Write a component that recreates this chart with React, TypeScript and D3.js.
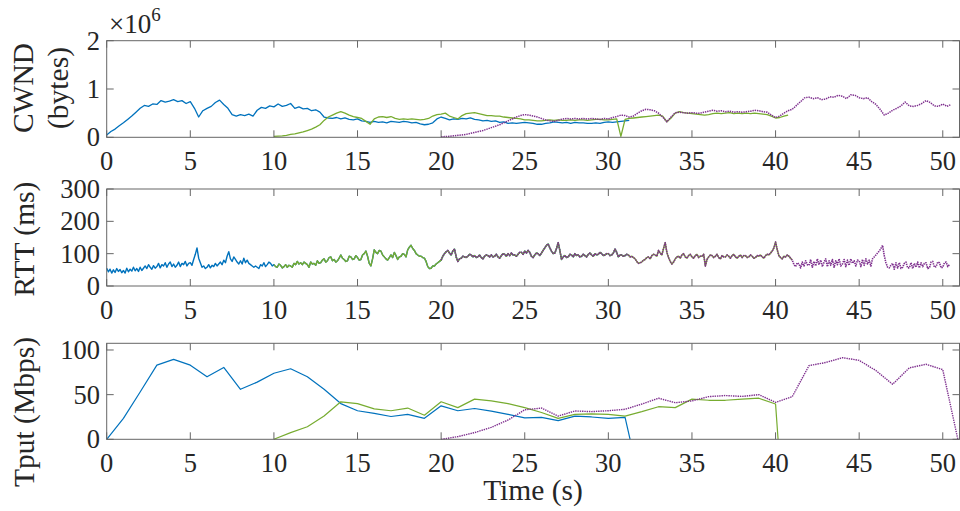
import React from 'react';
import * as d3 from 'd3';

// sampled traces: value every DT seconds from the flow start
const CWND_DT = 0.25;
const RTT_DT = 0.1;

// CWND in units of 1e6 bytes
const cwndBlueStart = 0;
const cwndBlue = [
  0.05, 0.12, 0.17, 0.24, 0.3, 0.37, 0.44, 0.52, 0.6, 0.66, 0.64, 0.69,
  0.68, 0.76, 0.73, 0.75, 0.78, 0.74, 0.76, 0.7, 0.74, 0.6, 0.42, 0.55,
  0.6, 0.64, 0.72, 0.77, 0.68, 0.6, 0.47, 0.44, 0.47, 0.45, 0.48, 0.44,
  0.56, 0.62, 0.6, 0.65, 0.63, 0.69, 0.64, 0.66, 0.7, 0.6, 0.63, 0.59,
  0.6, 0.55, 0.57, 0.52, 0.42, 0.4, 0.39, 0.41, 0.38, 0.4, 0.37, 0.36,
  0.38, 0.34, 0.33, 0.31, 0.33, 0.31, 0.32, 0.3, 0.33, 0.32, 0.31, 0.33,
  0.32, 0.3, 0.31, 0.28, 0.26, 0.27, 0.3, 0.38, 0.42, 0.39, 0.36, 0.38,
  0.37, 0.39, 0.38, 0.4, 0.37, 0.36, 0.34, 0.35, 0.33, 0.34, 0.31, 0.32,
  0.29, 0.3, 0.29, 0.3, 0.31, 0.3, 0.29, 0.27, 0.27, 0.29, 0.3, 0.32,
  0.31, 0.3, 0.31, 0.29, 0.31, 0.3, 0.3, 0.29, 0.29, 0.3, 0.29, 0.31,
  0.32, 0.31, 0.32, 0.33, 0.34, 0.35,
];
const cwndGreenStart = 10;
const cwndGreen = [
  0.02, 0.025, 0.03, 0.04, 0.06, 0.07, 0.09, 0.11, 0.14, 0.17, 0.21, 0.26,
  0.35, 0.42, 0.46, 0.5, 0.53, 0.5, 0.46, 0.43, 0.41, 0.39, 0.33, 0.27,
  0.38, 0.42, 0.43, 0.41, 0.43, 0.39, 0.37, 0.38, 0.37, 0.38, 0.37, 0.36,
  0.37, 0.39, 0.44, 0.47, 0.48, 0.5, 0.44, 0.41, 0.38, 0.45, 0.49, 0.5,
  0.51, 0.49, 0.47, 0.45, 0.45, 0.44, 0.44, 0.42, 0.41, 0.4, 0.39, 0.38,
  0.36, 0.36, 0.35, 0.34, 0.34, 0.35, 0.36, 0.35, 0.36, 0.35, 0.35, 0.36,
  0.35, 0.36, 0.36, 0.35, 0.36, 0.37, 0.37, 0.36, 0.36, 0.37, 0.38, 0.02,
  0.37, 0.39, 0.4, 0.41, 0.42, 0.43, 0.44, 0.45, 0.46, 0.44, 0.32, 0.4,
  0.5, 0.53, 0.51, 0.5, 0.49, 0.48, 0.47, 0.46, 0.47, 0.49, 0.5, 0.49,
  0.5, 0.51, 0.49, 0.5, 0.49, 0.5, 0.49, 0.5, 0.49, 0.48, 0.47, 0.44,
  0.4, 0.41, 0.44, 0.46,
];
const cwndPurpleStart = 20;
const cwndPurple = [
  0.01, 0.015, 0.02, 0.03, 0.04, 0.05, 0.06, 0.08, 0.1, 0.12, 0.14, 0.17,
  0.2, 0.23, 0.26, 0.3, 0.34, 0.38, 0.42, 0.45, 0.47, 0.46, 0.44, 0.42,
  0.39, 0.36, 0.34, 0.33, 0.35, 0.38, 0.39, 0.38, 0.39, 0.38, 0.39, 0.38,
  0.39, 0.38, 0.37, 0.39, 0.38, 0.41, 0.43, 0.46, 0.45, 0.42, 0.44, 0.5,
  0.55, 0.58, 0.57, 0.55, 0.5, 0.42, 0.32, 0.42, 0.51, 0.52, 0.51, 0.5,
  0.51, 0.5, 0.5, 0.52, 0.54, 0.56, 0.54, 0.55, 0.53, 0.54, 0.52, 0.53,
  0.52, 0.53, 0.54, 0.56, 0.55, 0.53, 0.52, 0.46, 0.41, 0.44, 0.5, 0.55,
  0.58, 0.66, 0.74, 0.82, 0.83, 0.8, 0.82, 0.78, 0.79, 0.84, 0.83, 0.87,
  0.85, 0.8, 0.88, 0.87, 0.82, 0.8, 0.82, 0.74, 0.68, 0.58, 0.46, 0.5,
  0.56, 0.6, 0.65, 0.73, 0.65, 0.64, 0.66, 0.7, 0.76, 0.72, 0.65, 0.64,
  0.69, 0.64, 0.68,
];

// bottleneck RTT (ms), shared by all flows, one row per second, 0 .. 50.4 s
const rtt = [
  55, 44, 52, 40, 50, 42, 54, 45, 51, 41,
  48, 40, 55, 44, 52, 46, 58, 47, 54, 45,
  58, 48, 55, 62, 54, 66, 58, 52, 63, 55,
  60, 70, 56, 66, 62, 72, 58, 68, 74, 60,
  68, 58, 64, 74, 60, 70, 66, 76, 62, 70,
  72, 64, 82, 98, 118, 86, 72, 58, 62, 54,
  58, 66, 56, 64, 60, 70, 62, 68, 74, 66,
  80, 72, 92, 106, 84, 76, 90, 82, 74, 68,
  78, 68, 86, 72, 80, 70, 66, 62, 58, 62,
  58, 54, 66, 62, 72, 60, 66, 74, 70, 62,
  66, 60, 58, 68, 64, 56, 60, 66, 58, 64,
  62, 58, 70, 66, 76, 68, 72, 66, 74, 70,
  66, 58, 74, 68, 70, 64, 78, 70, 72, 80,
  84, 74, 78, 88, 90, 78, 82, 74, 78, 86,
  96, 86, 82, 76, 78, 92, 90, 82, 84, 94,
  88, 80, 82, 96, 100, 108, 92, 70, 62, 84,
  112, 104, 100, 110, 108, 96, 90, 84, 80, 88,
  96, 88, 104, 94, 82, 90, 92, 100, 98, 90,
  112, 120, 126, 116, 110, 100, 96, 92, 92, 88,
  86, 76, 60, 54, 55, 62, 62, 68, 72, 76,
  80, 92, 100, 106, 110, 102, 96, 108, 114, 90,
  76, 84, 86, 92, 90, 88, 92, 98, 96, 90,
  94, 88, 90, 96, 88, 84, 92, 96, 94, 90,
  96, 90, 92, 98, 90, 86, 94, 100, 98, 92,
  100, 94, 102, 96, 96, 92, 98, 104, 104, 98,
  108, 102, 110, 104, 92, 88, 96, 102, 100, 94,
  102, 110, 118, 126, 130, 118, 108, 100, 102, 116,
  134, 110, 82, 90, 94, 88, 90, 98, 96, 90,
  100, 94, 96, 90, 92, 98, 94, 90, 98, 102,
  96, 92, 100, 96, 98, 104, 100, 94, 96, 100,
  100, 94, 96, 102, 114, 104, 90, 96, 96, 92,
  94, 98, 96, 90, 92, 88, 84, 76, 70, 72,
  74, 80, 82, 88, 90, 84, 94, 98, 96, 92,
  110, 102, 96, 116, 134, 104, 88, 76, 68, 74,
  84, 90, 92, 86, 96, 100, 90, 86, 94, 98,
  90, 86, 94, 98, 88, 92, 92, 98, 62, 82,
  90, 96, 94, 88, 92, 98, 88, 84, 94, 90,
  90, 96, 92, 86, 94, 98, 90, 86, 92, 96,
  88, 94, 94, 88, 90, 96, 92, 86, 88, 94,
  92, 96, 90, 86, 94, 98, 96, 102, 108, 118,
  136, 112, 94, 88, 84, 92, 90, 96, 92, 86,
  80, 66, 60, 72, 68, 56, 74, 62, 78, 66,
  64, 82, 58, 76, 62, 84, 66, 80, 60, 74,
  84, 60, 78, 64, 82, 58, 78, 66, 84, 62,
  68, 82, 60, 80, 64, 84, 70, 78, 62, 80,
  78, 60, 82, 64, 84, 68, 80, 62, 84, 90,
  96, 102, 108, 116, 126, 94, 72, 58, 56, 64,
  70, 52, 72, 56, 72, 54, 58, 70, 74, 56,
  56, 72, 54, 70, 58, 74, 56, 72, 60, 70,
  72, 54, 56, 74, 76, 58, 60, 74, 72, 56,
  58, 72, 74, 60, 66,
];
// flow lifetimes (s)
const flowStart = [0, 10, 20];
const flowEnd = [31.2, 41, 50.4];

// throughput (Mbps)
const tputBlueT = [0, 1, 2, 3, 4, 5, 6, 7, 8, 9, 10, 11, 12, 13, 14, 15, 16, 17, 18, 19, 20, 21, 22, 23, 24, 25, 26, 27, 28, 29, 30, 31, 31.3];
const tputBlue = [0, 23.5, 53, 83, 89.5, 83, 70, 80.5, 56, 64, 74, 79, 70, 56, 40, 32, 29, 25.5, 28, 23.5, 37.5, 32, 34.5, 31.5, 28, 24, 24.5, 21, 26, 25, 23.5, 24.5, 0];
const tputGreenT = [10, 11, 12, 13, 14, 15, 16, 17, 18, 19, 20, 21, 22, 23, 24, 25, 26, 27, 28, 29, 30, 31, 32, 33, 34, 35, 36, 37, 38, 39, 40, 40.15];
const tputGreen = [0, 7.5, 14, 26, 42, 40, 34, 32, 35, 27, 42, 35.5, 45, 43, 40, 35.5, 30, 23.5, 28, 28.5, 28, 26, 31, 36.5, 35.5, 45, 43.7, 43.7, 45, 46, 39.5, 0];
const tputPurpleT = [20, 21, 22, 23, 24, 25, 26, 27, 28, 29, 30, 31, 32, 33, 34, 35, 36, 37, 38, 39, 40, 41, 42, 43, 44, 45, 46, 47, 48, 49, 50, 50.9];
const tputPurple = [0, 3, 7.5, 13.4, 21.6, 33, 35, 26, 31.7, 31, 32, 33.6, 39.5, 46, 41, 43, 47.8, 49, 48, 50, 41.4, 47.8, 82.5, 86, 91.4, 88.4, 77, 61.6, 80, 84, 78, 0];

const xTicks = [0, 5, 10, 15, 20, 25, 30, 35, 40, 45, 50];
const cwndTicks = [0, 1, 2];
const rttTicks = [0, 100, 200, 300];
const tputTicks = [0, 50, 100];

const FONT = '"Liberation Serif", "Times New Roman", serif';
const INK = '#262626';
const COLORS = ['#0072BD', '#77AC30', '#7E2F8E'];
const DOTTED = [false, false, true];

type Pt = [number, number];

const x = d3.scaleLinear().domain([0, 51]).range([106.7, 959.5]);

const sampled = (start: number, dt: number, vals: number[]): Pt[] =>
  vals.map((v, i) => [start + i * dt, v] as Pt);

const zipPts = (ts: number[], vs: number[]): Pt[] => ts.map((t, i) => [t, vs[i]] as Pt);

function Panel(props: {
  top: number;
  bottom: number;
  yMax: number;
  yTicks: number[];
  series: Pt[][];
  labelY: number;
  lines: string[];
  lineX: number[];
  width?: number;
}) {
  const { top, bottom, yMax, yTicks, series, labelY, lines, lineX } = props;
  const sw = props.width || 1.1;
  const y = d3.scaleLinear().domain([0, yMax]).range([bottom, top]);
  const line = d3
    .line<Pt>()
    .x((d) => x(d[0]))
    .y((d) => y(d[1]));
  const [x0, x1] = x.range();
  const tl = 7;
  return (
    <g>
      {series.map((pts, i) => (
        <path
          key={i}
          d={line(pts) || ''}
          fill="none"
          stroke={COLORS[i]}
          strokeWidth={DOTTED[i] ? sw + 0.2 : sw}
          strokeDasharray={DOTTED[i] ? '1.4 0.9' : undefined}
          strokeLinejoin="round"
        />
      ))}
      <rect x={x0} y={top} width={x1 - x0} height={bottom - top} fill="none" stroke="#666" strokeWidth={1} />
      {xTicks.map((t) => (
        <g key={'x' + t}>
          <line x1={x(t)} x2={x(t)} y1={bottom} y2={bottom - tl} stroke="#666" />
          <line x1={x(t)} x2={x(t)} y1={top} y2={top + tl} stroke="#666" />
          <text x={x(t)} y={bottom + 33} textAnchor="middle" fontSize={26.5} fill={INK}>
            {t}
          </text>
        </g>
      ))}
      {yTicks.map((t) => (
        <g key={'y' + t}>
          <line x1={x0} x2={x0 + tl} y1={y(t)} y2={y(t)} stroke="#666" />
          <line x1={x1} x2={x1 - tl} y1={y(t)} y2={y(t)} stroke="#666" />
          <text x={100} y={y(t) + 9} textAnchor="end" fontSize={26.5} fill={INK}>
            {t}
          </text>
        </g>
      ))}
      {lines.map((s, i) => (
        <text
          key={s}
          transform={`translate(${lineX[i]},${labelY}) rotate(-90)`}
          textAnchor="middle"
          fontSize={29.5}
          fill={INK}
        >
          {s}
        </text>
      ))}
    </g>
  );
}

export default function App() {
  const cwnd = [
    sampled(cwndBlueStart, CWND_DT, cwndBlue),
    sampled(cwndGreenStart, CWND_DT, cwndGreen),
    sampled(cwndPurpleStart, CWND_DT, cwndPurple),
  ];
  const rttAll = sampled(0, RTT_DT, rtt);
  const rttSeries = flowStart.map((s, i) =>
    rttAll.filter((p) => p[0] >= s - 1e-6 && p[0] <= flowEnd[i] + 1e-6)
  );
  const tput = [
    zipPts(tputBlueT, tputBlue),
    zipPts(tputGreenT, tputGreen),
    zipPts(tputPurpleT, tputPurple),
  ];
  return (
    <svg
      width={960}
      height={511}
      style={{ position: 'absolute', left: 0, top: 0, background: '#fff' }}
      fontFamily={FONT}
    >
      <Panel
        top={40.7}
        bottom={137.3}
        yMax={2}
        yTicks={cwndTicks}
        series={cwnd}
        labelY={88}
        lines={['CWND', '(bytes)']}
        lineX={[33, 68]}
        width={1.3}
      />
      <text x={109} y={33} fontSize={27} fill={INK}>
        ×10
        <tspan dy={-12} fontSize={19}>
          6
        </tspan>
      </text>
      <Panel
        top={189}
        bottom={286}
        yMax={300}
        yTicks={rttTicks}
        series={rttSeries}
        labelY={239}
        lines={['RTT (ms)']}
        lineX={[34]}
        width={1.4}
      />
      <Panel
        top={343.3}
        bottom={439.3}
        yMax={107.5}
        yTicks={tputTicks}
        series={tput}
        labelY={412}
        lines={['Tput (Mbps)']}
        lineX={[34]}
        width={1.2}
      />
      <text x={533} y={500} textAnchor="middle" fontSize={29.5} fill={INK}>
        Time (s)
      </text>
    </svg>
  );
}
